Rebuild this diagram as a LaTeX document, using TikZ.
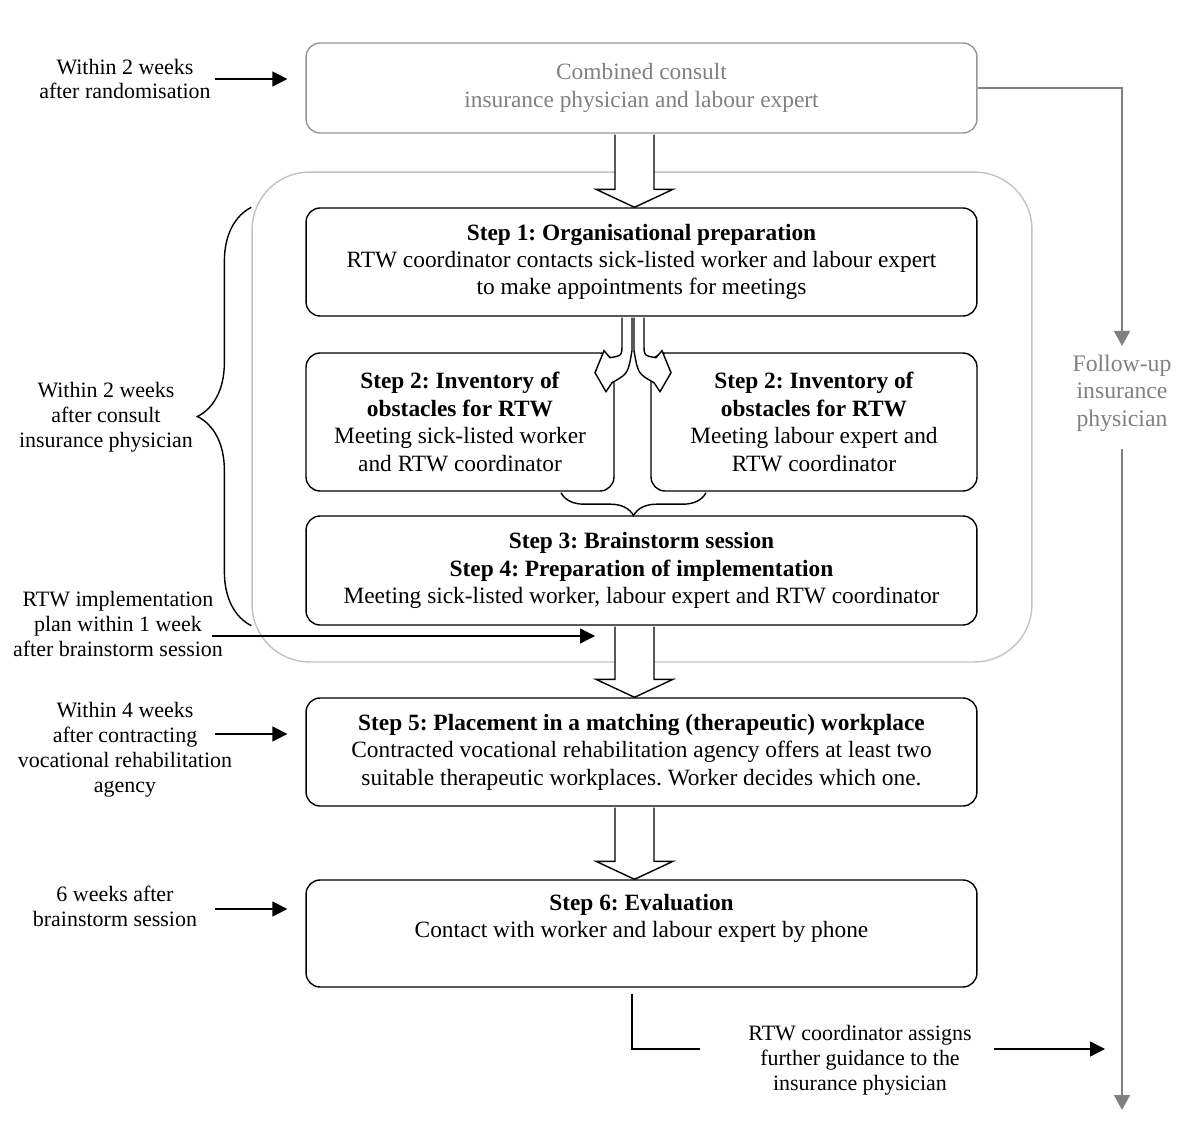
\documentclass[tikz,border=0pt]{standalone}
\usepackage{fontspec}
\setmainfont{Liberation Serif}
\usetikzlibrary{arrows.meta,calc,decorations.pathreplacing}
\frenchspacing

\definecolor{boxgray}{RGB}{150,150,150}
\definecolor{framegray}{RGB}{195,195,195}
\definecolor{textgray}{RGB}{128,128,128}

\tikzset{
  stepbox/.style={draw, line width=0.8pt, rounded corners=0.28cm, align=center, inner sep=2pt,
    font=\fontsize{13.3}{15.6}\selectfont},
  widebox/.style={stepbox, minimum width=13.42cm, minimum height=2.16cm},
  halfbox/.style={stepbox, minimum height=2.76cm},
  notelabel/.style={align=center, inner sep=2pt, font=\fontsize{12.5}{14.2}\selectfont},
  arr/.style={line width=0.75pt, -{Triangle[length=0.3cm, width=0.3cm]}},
  grayarr/.style={draw=textgray, line width=0.9pt, -{Triangle[length=0.3cm, width=0.32cm]}},
  fatarrow/.style={line width=0.8pt, fill=white},
}

% outlined block arrow between two boxes
\newcommand{\fatarrow}[2]{%
  \coordinate (fa1) at ($(#1.south -| ax)+(0,1)$);
  \coordinate (fa2) at (#2.north -| ax);
  \draw[fatarrow] ($(fa1)+(-19.5,0)$) -- ($(fa2)+(-19.5,-18)$) -- ($(fa2)+(-38.5,-18)$)
    -- (fa2) -- ($(fa2)+(38.5,-18)$) -- ($(fa2)+(19.5,-18)$) -- ($(fa1)+(19.5,0)$);
}

\begin{document}
\begin{tikzpicture}[x=0.02cm, y=-0.02cm]
  \useasboundingbox (0,0) rectangle (1200,1135);

  % grey frame round steps 1-4
  \node[draw=framegray, line width=0.8pt, rounded corners=1.15cm,
    minimum width=15.6cm, minimum height=9.8cm] (frame) at (642,417) {};

  % boxes
  \node[widebox, draw=boxgray, text=textgray, minimum height=1.8cm] (consult) at (641.5,88)
    {Combined consult\\insurance physician and labour expert};
  \node[widebox] (step1) at (641.5,262)
    {\textbf{Step 1: Organisational preparation}\\RTW coordinator contacts sick-listed worker and labour expert\\to make appointments for meetings};
  \node[halfbox, minimum width=6.16cm] (step2L) at (460,422)
    {\textbf{Step 2: Inventory of}\\\textbf{obstacles for RTW}\\Meeting sick-listed worker\\and RTW coordinator};
  \node[halfbox, minimum width=6.52cm] (step2R) at (814,422)
    {\textbf{Step 2: Inventory of}\\\textbf{obstacles for RTW}\\Meeting labour expert and\\RTW coordinator};
  \node[widebox, minimum height=2.18cm] (step34) at (641.5,570.5)
    {\textbf{Step 3: Brainstorm session}\\\textbf{Step 4: Preparation of implementation}\\Meeting sick-listed worker, labour expert and RTW coordinator};
  \node[widebox] (step5) at (641.5,752)
    {\textbf{Step 5: Placement in a matching (therapeutic) workplace}\\Contracted vocational rehabilitation agency offers at least two\\suitable therapeutic workplaces. Worker decides which one.};
  \node[widebox, minimum height=2.14cm] (step6) at (641.5,933.5)
    {\textbf{Step 6: Evaluation}\\Contact with worker and labour expert by phone\\\strut};

  % block arrows
  \coordinate (ax) at (634.5,0);
  \fatarrow{consult}{step1}
  \fatarrow{step34}{step5}
  \fatarrow{step5}{step6}

  % split arrow into the two step 2 boxes
  \coordinate (split) at ($(step1.south -| ax)+(-1.5,1)$);
  \begin{scope}[shift={(split)}]
    \draw[fatarrow] (-11,0) -- (-11,26) .. controls (-11,38) .. (-23,40) -- (-29,33)
      -- (-38,55) -- (-27,74) -- (-21,65) .. controls (-5,56) .. (-1,33) -- (-1,0);
    \draw[fatarrow] (11,0) -- (11,26) .. controls (11,38) .. (23,40) -- (29,33)
      -- (38,55) -- (27,74) -- (21,65) .. controls (5,56) .. (1,33) -- (1,0);
  \end{scope}

  % braces
  \coordinate (b1) at ($(step2L.south)+(101,1)$);
  \coordinate (b2) at ($(step2R.south)+(-108,1)$);
  \draw[line width=0.8pt, decorate, decoration={brace, amplitude=0.46cm, mirror}] (b1) -- (b2);
  \draw[line width=0.8pt, decorate, decoration={brace, amplitude=1.08cm}]
    (step34.south -| frame.west) -- (step1.north -| frame.west);

  % time labels on the left
  \node[notelabel] (lab0) at (125,79) {Within 2 weeks\\after randomisation};
  \node[notelabel] (labC) at (106,417) {Within 2 weeks\\after consult\\insurance physician};
  \node[notelabel] (labI) at (118,624) {RTW implementation\\plan within 1 week\\after brainstorm session};
  \node[notelabel] (lab5) at (125,749.5) {Within 4 weeks\\after contracting\\vocational rehabilitation\\agency};
  \node[notelabel] (lab6) at (115,906) {6 weeks after\\brainstorm session};

  \coordinate (t0) at (215,79);
  \coordinate (tI) at (212,636);
  \coordinate (t5) at (215,734);
  \coordinate (t6) at (215,909);
  \draw[arr, shorten >=0.36cm] (t0) -- (t0 -| consult.west);
  \draw[arr, shorten >=0.79cm] (tI) -- (tI -| ax);
  \draw[arr, shorten >=0.36cm] (t5) -- (t5 -| step5.west);
  \draw[arr, shorten >=0.36cm] (t6) -- (t6 -| step6.west);

  % follow-up by the insurance physician
  \node[notelabel, text=textgray, font=\fontsize{13.5}{15.6}\selectfont] (follow) at (1122,393)
    {Follow-up\\insurance\\physician};
  \coordinate (fend) at (1123,1110);
  \draw[grayarr, shorten >=0.1cm] (consult.east) -| (follow.north);
  \draw[grayarr, shorten <=0.28cm] (follow.south) -- (follow.south |- fend);

  % hand-over after evaluation
  \node[notelabel, inner xsep=0.2cm] (assign) at (860,1060)
    {RTW coordinator assigns\\further guidance to the\\insurance physician};
  \coordinate (c6) at ($(step6.south -| ax)+(-2.5,6)$);
  \draw[line width=0.75pt, shorten >=0.76cm] (c6) |- ([yshift=0.22cm]assign.west);
  \draw[arr, shorten <=0.24cm, shorten >=0.36cm] ([yshift=0.22cm]assign.east) -- ([yshift=0.22cm]assign.east -| fend);
\end{tikzpicture}
\end{document}
